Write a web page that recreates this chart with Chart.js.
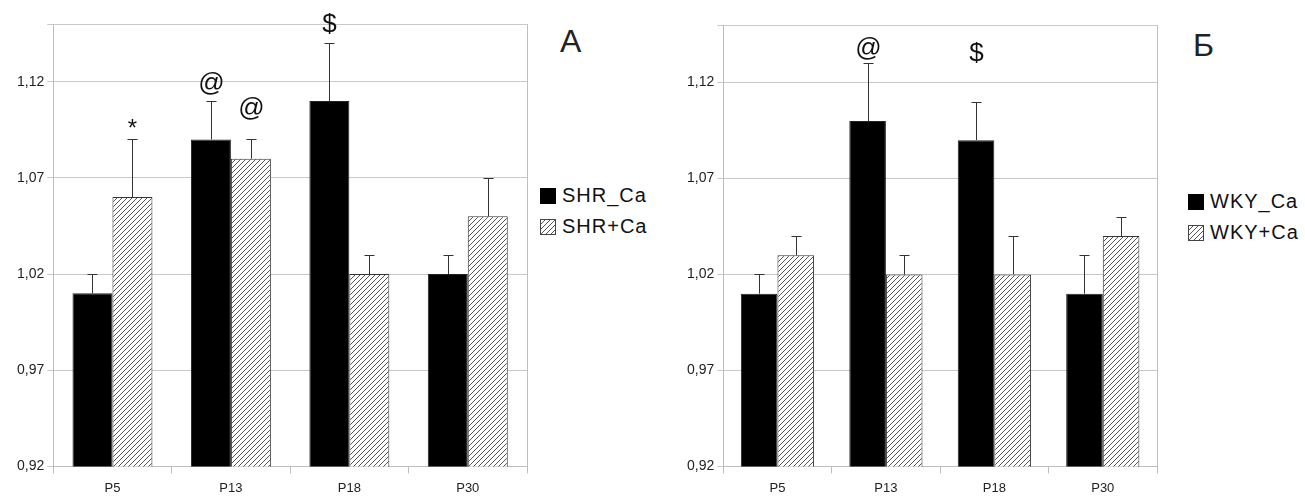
<!DOCTYPE html>
<html>
<head>
<meta charset="utf-8">
<script src="https://cdn.jsdelivr.net/npm/chart.js@4.4.1/dist/chart.umd.min.js"></script>
<style>
  body { margin: 0; background: #fff; width: 1305px; height: 497px; position: relative; overflow: hidden;
         font-family: "Liberation Sans", Arial, sans-serif; }
  .panel { position: absolute; top: 0; height: 503px; }
  .letter { position: absolute; font-size: 32px; line-height: 1; color: #222; }
  .legend { position: absolute; font-size: 20px; letter-spacing: 1px; color: #111; }
  .legend div { height: 31px; display: flex; align-items: center; white-space: nowrap; }
  .sw { width: 16px; height: 16px; margin-right: 6px; box-sizing: border-box; flex: none; }
  .sw.solid { background: #000; }
  .sw.hatch { border: 1px solid #444;
              background: repeating-linear-gradient(135deg, #fff 0 2.5px, #555 2.5px 3.5px); }
</style>
</head>
<body>
<div class="panel" style="left:0;width:540px"><canvas id="chartA"></canvas></div>
<div class="panel" style="left:670px;width:500px"><canvas id="chartB"></canvas></div>

<div class="letter" style="left:560px;top:25px">А</div>
<div class="letter" style="left:1193px;top:29px">Б</div>

<div class="legend" style="left:540px;top:180px">
  <div><span class="sw solid"></span>SHR_Ca</div>
  <div><span class="sw hatch"></span>SHR+Ca</div>
</div>
<div class="legend" style="left:1188px;top:186px">
  <div><span class="sw solid"></span>WKY_Ca</div>
  <div><span class="sw hatch"></span>WKY+Ca</div>
</div>

<script>
// categories and axis
const categories = ['P5', 'P13', 'P18', 'P30'];
const yTicks = [0.92, 0.97, 1.02, 1.07, 1.12];
const yMin = 0.92;
const yMax = 1.15;

// panel A: SHR
const shrCa = [1.01, 1.09, 1.11, 1.02];
const shrCaErr = [0.01, 0.02, 0.03, 0.01];
const shrPlusCa = [1.06, 1.08, 1.02, 1.05];
const shrPlusCaErr = [0.03, 0.01, 0.01, 0.02];

// panel Б: WKY
const wkyCa = [1.01, 1.10, 1.09, 1.01];
const wkyCaErr = [0.01, 0.03, 0.02, 0.02];
const wkyPlusCa = [1.03, 1.02, 1.02, 1.04];
const wkyPlusCaErr = [0.01, 0.01, 0.02, 0.01];

// significance marks and the level (in axis units) they sit at
const shrCaMarks = ['', '@', '$', ''];
const shrCaMarkAt = [null, 1.119, 1.1495, null];
const shrPlusCaMarks = ['*', '@', '', ''];
const shrPlusCaMarkAt = [1.095, 1.106, null, null];
const wkyCaMarks = ['', '@', '$', ''];
const wkyCaMarkAt = [null, 1.1376, 1.135, null];
const wkyPlusCaMarks = ['', '', '', ''];
const wkyPlusCaMarkAt = [null, null, null, null];

// diagonal hatch fill
function makeHatch() {
  const s = 5;
  const c = document.createElement('canvas');
  c.width = s; c.height = s;
  const g = c.getContext('2d');
  g.fillStyle = '#fff';
  g.fillRect(0, 0, s, s);
  g.strokeStyle = '#555';
  g.lineWidth = 1;
  g.beginPath();
  g.moveTo(0, s); g.lineTo(s, 0);
  g.moveTo(-1, 1); g.lineTo(1, -1);
  g.moveTo(s - 1, s + 1); g.lineTo(s + 1, s - 1);
  g.stroke();
  return g.createPattern(c, 'repeat');
}

// error bars + marks above them
const errorBars = {
  id: 'errorBars',
  afterDatasetsDraw(chart) {
    const ctx = chart.ctx;
    const y = chart.scales.y;
    chart.data.datasets.forEach((ds, i) => {
      const meta = chart.getDatasetMeta(i);
      meta.data.forEach((bar, j) => {
        const x = Math.round(bar.x) + 0.5;
        const top = Math.round(y.getPixelForValue(ds.data[j] + ds.errors[j])) + 0.5;
        ctx.save();
        ctx.strokeStyle = '#333';
        ctx.lineWidth = 1;
        ctx.beginPath();
        ctx.moveTo(x, bar.y);
        ctx.lineTo(x, top);
        ctx.moveTo(x - 5, top);
        ctx.lineTo(x + 5, top);
        ctx.stroke();
        const mark = ds.marks[j];
        if (mark) {
          ctx.fillStyle = '#111';
          ctx.font = (mark === '*' ? '24px' : '26px') + ' "Liberation Sans", Arial, sans-serif';
          ctx.textAlign = 'center';
          ctx.textBaseline = 'middle';
          ctx.fillText(mark, x, y.getPixelForValue(ds.markAt[j]));
        }
        ctx.restore();
      });
    });
  }
};

// right edge of the plot frame
const frame = {
  id: 'frame',
  beforeDatasetsDraw(chart) {
    const a = chart.chartArea;
    const ctx = chart.ctx;
    ctx.save();
    ctx.strokeStyle = '#c0c0c0';
    ctx.lineWidth = 1;
    ctx.beginPath();
    ctx.moveTo(Math.round(a.right) + 0.5, a.top);
    ctx.lineTo(Math.round(a.right) + 0.5, a.bottom);
    ctx.stroke();
    ctx.restore();
  }
};

function makeChart(id, top, solid, solidErr, solidMarks, solidAt, hatched, hatchedErr, hatchedMarks, hatchedAt) {
  const hatch = makeHatch();
  return new Chart(document.getElementById(id), {
    type: 'bar',
    data: {
      labels: categories,
      datasets: [
        { data: solid, errors: solidErr, marks: solidMarks, markAt: solidAt,
          backgroundColor: '#000', borderColor: '#222', borderWidth: 1,
          categoryPercentage: 0.675, barPercentage: 1.0 },
        { data: hatched, errors: hatchedErr, marks: hatchedMarks, markAt: hatchedAt,
          backgroundColor: hatch, borderColor: '#333', borderWidth: 1,
          categoryPercentage: 0.675, barPercentage: 1.0 },
      ],
    },
    options: {
      responsive: true,
      maintainAspectRatio: false,
      animation: false,
      layout: { padding: { left: 14, top: top, right: 13, bottom: 0 } },
      plugins: { legend: { display: false }, tooltip: { enabled: false } },
      scales: {
        x: {
          grid: { offset: true, drawOnChartArea: false, tickLength: 7, color: '#bdbdbd' },
          border: { color: '#bdbdbd' },
          ticks: { padding: 7, color: '#222', font: { family: '"Liberation Sans", Arial, sans-serif', size: 13 } },
        },
        y: {
          min: yMin,
          max: yMax,
          afterBuildTicks: (scale) => {
            scale.ticks = yTicks.concat([yMax]).map((v) => ({ value: v }));
          },
          grid: { color: '#c8c8c8', tickLength: 6 },
          border: { color: '#bdbdbd' },
          ticks: {
            padding: 3,
            color: '#222',
            font: { family: '"Liberation Sans", Arial, sans-serif', size: 14 },
            callback: (v) => yTicks.some((t) => Math.abs(t - v) < 1e-6) ? v.toFixed(2).replace('.', ',') : '',
          },
        },
      },
    },
    plugins: [frame, errorBars],
  });
}

makeChart('chartA', 24, shrCa, shrCaErr, shrCaMarks, shrCaMarkAt,
  shrPlusCa, shrPlusCaErr, shrPlusCaMarks, shrPlusCaMarkAt);
makeChart('chartB', 25, wkyCa, wkyCaErr, wkyCaMarks, wkyCaMarkAt,
  wkyPlusCa, wkyPlusCaErr, wkyPlusCaMarks, wkyPlusCaMarkAt);
</script>
</body>
</html>
